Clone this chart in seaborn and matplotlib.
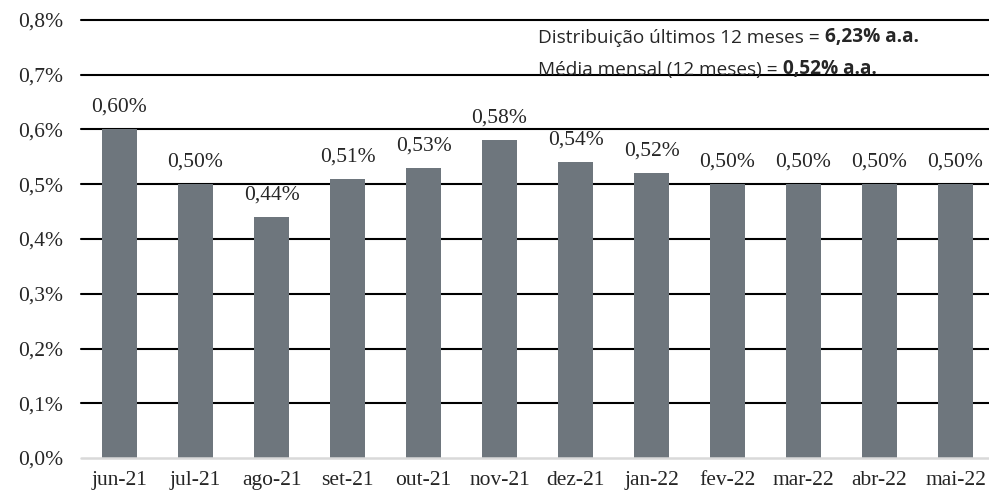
import pandas as pd
import seaborn as sns
import matplotlib.pyplot as plt
from matplotlib.ticker import FuncFormatter

# monthly distribution data
months = ["jun-21", "jul-21", "ago-21", "set-21", "out-21", "nov-21",
          "dez-21", "jan-22", "fev-22", "mar-22", "abr-22", "mai-22"]
values = [0.60, 0.50, 0.44, 0.51, 0.53, 0.58, 0.54, 0.52, 0.50, 0.50, 0.50, 0.50]

note_labels = ["Distribuição últimos 12 meses = ", "Média mensal (12 meses) = "]
note_values = ["6,23% a.a.", "0,52% a.a."]

BAR_COLOR = "#6E767D"
SERIF = "Liberation Serif"
SANS = "Open Sans"


def pct(v, decimals):
    return f"{v:.{decimals}f}%".replace(".", ",")


def show_bar_chart(df):
    sns.set_style("white")
    plt.rcParams["font.family"] = [SERIF, "DejaVu Serif"]

    fig = plt.figure(figsize=(9.89, 4.96), dpi=100)
    ax = fig.add_axes([0.0824, 0.0766, 0.9176, 0.8831])

    sns.barplot(data=df, x="month", y="value", color=BAR_COLOR,
                saturation=1, width=0.46, linewidth=0, ax=ax, zorder=3)

    ax.set_ylim(0, 0.8)
    ax.set_xlim(-0.5, 11.44)
    ax.set_yticks([i / 10 for i in range(9)])
    ax.yaxis.set_major_formatter(FuncFormatter(lambda v, _: pct(v, 1)))

    # horizontal gridlines in black, light gray baseline
    for t in ax.get_yticks()[1:]:
        ax.axhline(t, color="black", lw=1.5, zorder=1, clip_on=False)
    ax.axhline(0, color="#D9D9D9", lw=1.8, zorder=4, clip_on=False)

    for s in ax.spines.values():
        s.set_visible(False)

    ax.set_xlabel("")
    ax.set_ylabel("")
    ax.tick_params(axis="both", length=0, labelsize=15.5)
    ax.tick_params(axis="y", pad=13)
    ax.tick_params(axis="x", pad=9)

    # data labels above each bar
    for i, v in enumerate(df["value"]):
        ax.annotate(pct(v, 2), xy=(i, v), xytext=(0, 9), textcoords="offset points",
                    ha="center", va="bottom", fontsize=15.5)

    # notes in the upper right
    ys = [0.767, 0.708]
    for label, bold, y in zip(note_labels, note_values, ys):
        t = ax.text(5.507, y, label, fontsize=13.7, family=SANS, va="center", ha="left")
        ax.annotate(bold, xy=(1, 0), xycoords=t, va="bottom", ha="left",
                    fontsize=13.7, family=SANS, fontweight="bold")

    fig.savefig("out.png", dpi=100)


if __name__ == "__main__":
    data = pd.DataFrame({"month": months, "value": values})
    show_bar_chart(data)
